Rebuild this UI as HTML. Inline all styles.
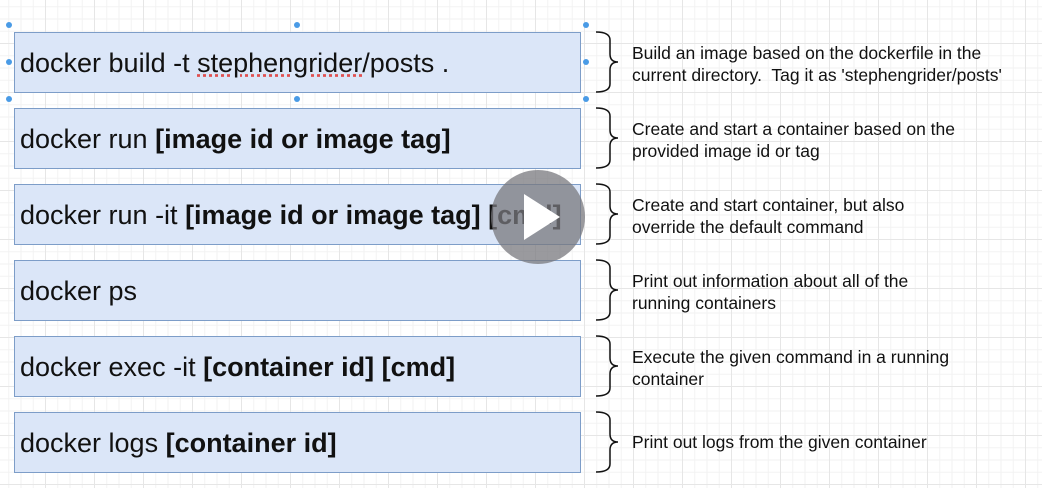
<!DOCTYPE html>
<html><head><style>
body{margin:0;width:1042px;height:488px;overflow:hidden;position:relative;font-family:"Liberation Sans",Arial,sans-serif;
background-color:#fff;
background-image:linear-gradient(#e6e6e6 1px,transparent 1px),linear-gradient(90deg,#e6e6e6 1px,transparent 1px),linear-gradient(#f2f2f2 1px,transparent 1px),linear-gradient(90deg,#f2f2f2 1px,transparent 1px);
background-size:49px 49px,49px 49px,12.25px 12.25px,12.25px 12.25px;background-position:-4px -6px;}
.b{position:absolute;left:14px;width:567px;height:61px;background:#dbe6f8;border:1px solid #7d9dc8;font-size:27px;line-height:61px;padding-left:5px;box-sizing:border-box;color:#111;white-space:nowrap;overflow:hidden}
.b b{font-weight:bold}
.d{position:absolute;left:632px;font-size:17.5px;line-height:22px;color:#111;white-space:nowrap}
</style></head><body>
<div class="b" style="top:32px">docker build -t <span style="text-decoration:underline dotted #e05050">stephengrider</span>/posts .</div>
<div class="b" style="top:108px">docker run <b>[image id or image tag]</b></div>
<div class="b" style="top:184px">docker run -it <b>[image id or image tag] [cmd]</b></div>
<div class="b" style="top:260px">docker ps</div>
<div class="b" style="top:336px">docker exec -it <b>[container id] [cmd]</b></div>
<div class="b" style="top:412px">docker logs <b>[container id]</b></div>

<svg style="position:absolute;left:0;top:0" width="1042" height="488">
<g fill="#4a9be6">
<circle cx="9" cy="25" r="3"/><circle cx="297" cy="25" r="3"/><circle cx="586" cy="25" r="3"/>
<circle cx="9" cy="62" r="3"/><circle cx="586" cy="62" r="3"/>
<circle cx="9" cy="99" r="3"/><circle cx="297" cy="99" r="3"/><circle cx="586" cy="99" r="3"/>
</g>
<g fill="none" stroke="#111" stroke-width="1.5">
<path id="br" d="M596 32 q14 0 14 8 v14 q0 8 8 8 q-8 0 -8 8 v14 q0 8 -14 8"/>
<use href="#br" y="76"/><use href="#br" y="152"/><use href="#br" y="228"/><use href="#br" y="304"/><use href="#br" y="380"/>
</g>
<circle cx="538" cy="217" r="47" fill="rgba(120,120,125,0.75)"/>
<path d="M524 194 L560 217 L524 240 Z" fill="#fff"/>
</svg>

<div class="d" style="top:42px">Build an image based on the dockerfile in the<br>current directory.&nbsp; Tag it as 'stephengrider/posts'</div>
<div class="d" style="top:118px">Create and start a container based on the<br>provided image id or tag</div>
<div class="d" style="top:194px">Create and start container, but also<br>override the default command</div>
<div class="d" style="top:270px">Print out information about all of the<br>running containers</div>
<div class="d" style="top:346px">Execute the given command in a running<br>container</div>
<div class="d" style="top:431px">Print out logs from the given container</div>
</body></html>
